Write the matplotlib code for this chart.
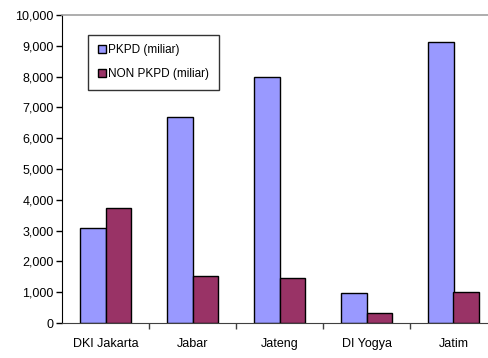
import matplotlib
matplotlib.use("Agg")
import matplotlib.pyplot as plt
import numpy as np
from matplotlib.ticker import FuncFormatter

plt.rcParams["font.family"] = ["Liberation Sans", "DejaVu Sans"]

provinces = ["DKI Jakarta", "Jabar", "Jateng", "DI Yogya", "Jatim"]
pkpd = [3075, 6690, 7995, 965, 9130]
non_pkpd = [3730, 1525, 1470, 310, 1020]

fig = plt.figure(figsize=(4.88, 3.58), dpi=100)
ax = fig.add_axes([62 / 488, 35 / 358, 435 / 488, 308 / 358])

x = np.arange(len(provinces))
w = 0.29
ax.bar(x - w / 2, pkpd, w, color="#9999FF", edgecolor="black", linewidth=1,
       label="PKPD (miliar)")
ax.bar(x + w / 2, non_pkpd, w, color="#993366", edgecolor="black", linewidth=1,
       label="NON PKPD (miliar)")

ax.set_xlim(-0.5, len(provinces) - 0.5)
ax.set_ylim(0, 10000)
ax.set_yticks(np.arange(0, 10001, 1000))
ax.yaxis.set_major_formatter(FuncFormatter(lambda v, _: f"{int(v):,}"))

# category labels centred on groups, tick marks between groups
ax.set_xticks(x)
ax.set_xticklabels(provinces)
ax.tick_params(axis="x", which="major", length=0, pad=11, labelsize=9)
ax.set_xticks(np.arange(0.5, len(provinces) - 0.5, 1), minor=True)
ax.tick_params(axis="x", which="minor", length=4, width=1, color="#404040",
               direction="out")
ax.tick_params(axis="y", length=4, width=1, labelsize=9, pad=2)

ax.spines["left"].set_color("black")
ax.spines["bottom"].set_color("#404040")
ax.spines["top"].set_color("#A0A0A0")
ax.spines["top"].set_linewidth(1.2)
ax.spines["right"].set_visible(False)

leg = ax.legend(loc="upper left", bbox_to_anchor=(0.06, 0.935), frameon=True,
                fancybox=False, edgecolor="black", fontsize=8.5,
                handlelength=0.7, handleheight=0.7, handletextpad=0.2,
                labelspacing=1.0, borderpad=0.8, borderaxespad=0)
leg.get_frame().set_linewidth(1)

fig.savefig("out.png", dpi=100)
